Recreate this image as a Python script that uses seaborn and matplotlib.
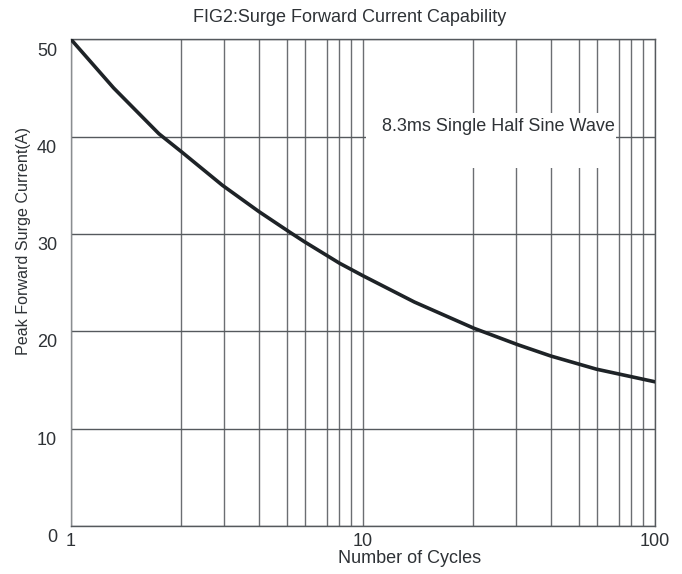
import matplotlib
matplotlib.use("Agg")
import matplotlib.pyplot as plt
import matplotlib.transforms as mtransforms
from matplotlib.patches import Rectangle
import seaborn as sns
import pandas as pd

# ---- data ----
cycles = [1, 1.4, 2, 2.4, 3.3, 4.4, 5.6, 6.3, 8.3, 10, 15, 24, 34, 44, 63, 100]
current = [50, 45.0, 40.3, 38.4, 35.0, 32.3, 30.2, 29.2, 27.0, 25.7, 23.0, 20.3, 18.6, 17.45, 16.1, 14.8]

x_ticks = [1, 10, 100]
x_tick_labels = ["1", "10", "100"]
y_ticks = [0, 10, 20, 30, 40, 50]
# grid positions as drawn in the reference (hand-drawn log paper)
grid_x_decade = [2.38, 3.34, 4.40, 5.49, 6.33, 7.53, 8.28, 9.10]

title = "FIG2:Surge Forward Current Capability"
xlabel = "Number of Cycles"
ylabel = "Peak Forward Surge Current(A)"
note = "8.3ms Single Half Sine Wave"

df = pd.DataFrame({"cycles": cycles, "current": current})

sns.set_style("white")
plt.rcParams["font.family"] = ["Liberation Sans", "DejaVu Sans"]
TXT = "#2e3236"

fig = plt.figure(figsize=(6.82, 5.74), dpi=100)
ax = fig.add_axes([0.1041, 0.0840, 0.8563, 0.8474])

ax.set_xscale("log")
ax.set_xlim(1, 100)
ax.set_ylim(0, 50)

minor = [v for v in grid_x_decade] + [v * 10 for v in grid_x_decade]
ax.set_xticks(x_ticks)
ax.set_xticklabels(x_tick_labels)
ax.set_xticks(minor, minor=True)
ax.set_xticklabels([], minor=True)
ax.set_yticks(y_ticks)

ax.grid(True, which="both", axis="x", color="#6b6e72", linewidth=1.0)
ax.grid(True, which="major", axis="y", color="#55595d", linewidth=1.0)
ax.set_axisbelow(True)

# white box behind the note
ax.add_patch(Rectangle((10.25, 36.8), 73.5 - 10.25, 42.4 - 36.8,
                       facecolor="white", edgecolor="none", zorder=1.5))

sns.lineplot(data=df, x="cycles", y="current", ax=ax, color="#1e2327",
             linewidth=2.6, zorder=3)

ax.text(29.2, 41.0, note, ha="center", va="center", fontsize=13, color=TXT, zorder=4)

for s in ax.spines.values():
    s.set_color("#55595d")
    s.set_linewidth(1.0)
ax.spines["left"].set_color("#8a8d90")

ax.tick_params(axis="both", which="both", length=0, labelsize=13, labelcolor=TXT)
ax.tick_params(axis="x", pad=5)
ax.tick_params(axis="y", pad=10)
off = mtransforms.ScaledTranslation(0, -7 / 72, fig.dpi_scale_trans)
for lab in ax.get_yticklabels():
    lab.set_transform(lab.get_transform() + off)

ax.set_xlabel(xlabel, fontsize=13, color=TXT)
ax.set_ylabel(ylabel, fontsize=11.6, color=TXT)
ax.xaxis.set_label_coords(0.5805, -0.049)
ax.yaxis.set_label_coords(-0.069, 0.5855)

fig.text(0.513, 1 - 17 / 574, title, ha="center", va="center", fontsize=13, color=TXT)

fig.savefig("out.png", dpi=100)
